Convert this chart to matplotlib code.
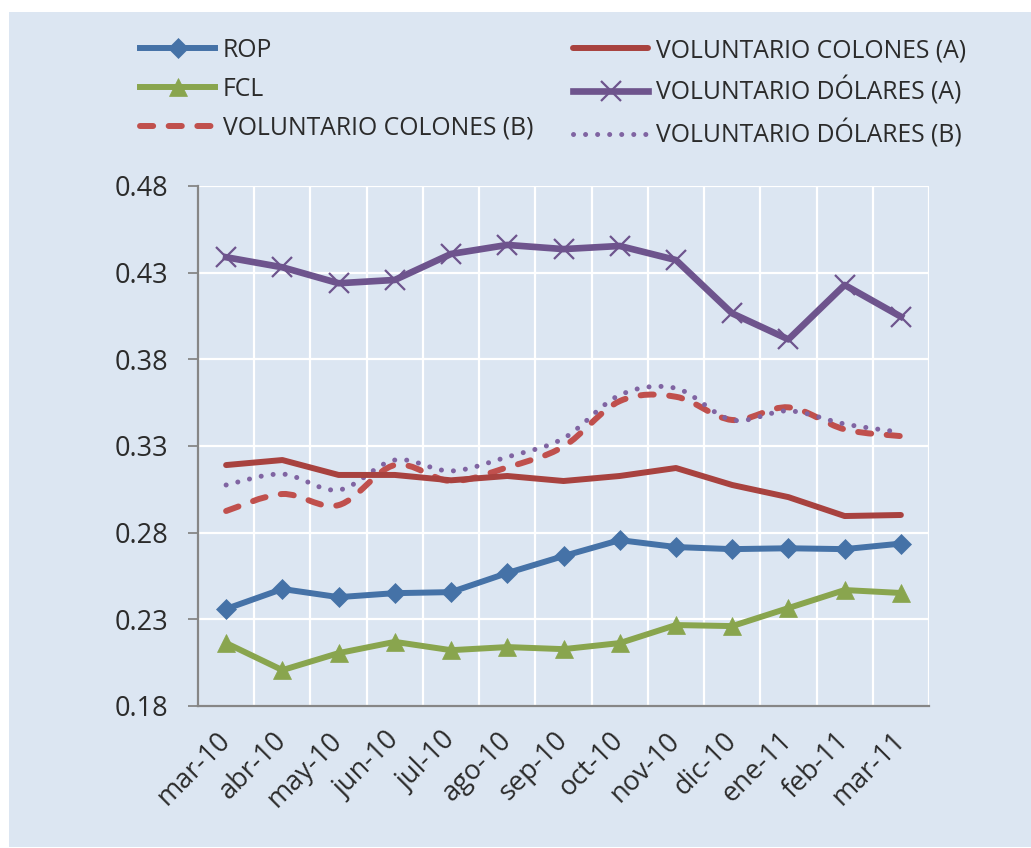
import matplotlib
matplotlib.use('Agg')
import matplotlib.pyplot as plt
import numpy as np
from matplotlib.patches import Rectangle, PathPatch
from matplotlib.path import Path
from matplotlib.lines import Line2D

plt.rcParams['font.family'] = ['Open Sans', 'DejaVu Sans']

# Data
months = ['mar-10', 'abr-10', 'may-10', 'jun-10', 'jul-10', 'ago-10', 'sep-10',
          'oct-10', 'nov-10', 'dic-10', 'ene-11', 'feb-11', 'mar-11']
rop = [0.2360, 0.2475, 0.2428, 0.2451, 0.2457, 0.2567, 0.2665,
       0.2757, 0.2717, 0.2705, 0.2710, 0.2705, 0.2737]
fcl = [0.2163, 0.2007, 0.2105, 0.2170, 0.2122, 0.2140, 0.2128,
       0.2163, 0.2267, 0.2261, 0.2365, 0.2469, 0.2452]
vol_col_a = [0.3190, 0.3219, 0.3133, 0.3133, 0.3102, 0.3127, 0.3098,
             0.3127, 0.3173, 0.3075, 0.3005, 0.2896, 0.2902]
vol_dol_a = [0.4389, 0.4331, 0.4239, 0.4258, 0.4408, 0.4460, 0.4436,
             0.4454, 0.4373, 0.4065, 0.3915, 0.4229, 0.4046]
vol_col_b = [0.2925, 0.3023, 0.2959, 0.3190, 0.3098, 0.3177, 0.3297,
             0.3559, 0.3584, 0.3450, 0.3523, 0.3396, 0.3357]
vol_dol_b = [0.3075, 0.3138, 0.3046, 0.3219, 0.3156, 0.3237, 0.3344,
             0.3594, 0.3633, 0.3450, 0.3503, 0.3427, 0.3379]

bg = '#dce6f2'
c_rop = '#4572a7'
c_fcl = '#89a54e'
c_vca = '#a8423f'
c_vda = '#6e548d'
c_vcb = '#c0504d'
c_vdb = '#8064a2'
txt = '#2b2b2b'


def smooth_path(x, y):
    # Excel-like smoothed line: Catmull-Rom segments as cubic Beziers
    n = len(x)
    verts = [(x[0], y[0])]
    codes = [Path.MOVETO]
    for i in range(n - 1):
        a = max(i - 1, 0)
        d = min(i + 2, n - 1)
        c1 = (x[i] + (x[i + 1] - x[a]) / 6, y[i] + (y[i + 1] - y[a]) / 6)
        c2 = (x[i + 1] - (x[d] - x[i]) / 6, y[i + 1] - (y[d] - y[i]) / 6)
        verts += [c1, c2, (x[i + 1], y[i + 1])]
        codes += [Path.CURVE4] * 3
    return Path(verts, codes)


fig = plt.figure(figsize=(10.31, 8.48), dpi=100, facecolor='white')
fig.add_artist(Rectangle((9 / 1031, 1 / 848), 1 - 9 / 1031, 1 - 13 / 848,
                         transform=fig.transFigure, facecolor=bg,
                         edgecolor='none', zorder=-10))

ax = fig.add_axes([198 / 1031, 1 - 706 / 848, (929 - 198) / 1031, (706 - 186) / 848])
ax.set_facecolor(bg)

x = np.arange(len(months))

lw = 4.3
l_rop, = ax.plot(x, rop, color=c_rop, lw=lw, marker='D', ms=10.5, mew=0.5, zorder=5)
l_fcl, = ax.plot(x, fcl, color=c_fcl, lw=lw, marker='^', ms=13, mew=0.5, zorder=5)
l_vca, = ax.plot(x, vol_col_a, color=c_vca, lw=lw, solid_capstyle='round', zorder=4)
l_vda, = ax.plot(x, vol_dol_a, color=c_vda, lw=4.8, marker='x', ms=14, mew=1.6, zorder=5)

p_vcb = PathPatch(smooth_path(x, vol_col_b), fill=False, edgecolor=c_vcb, lw=lw,
                  linestyle=(0, (2.2, 2.6)), capstyle='round', zorder=3)
p_vdb = PathPatch(smooth_path(x, vol_dol_b), fill=False, edgecolor=c_vdb, lw=3.6,
                  linestyle=(0, (0.01, 2.4)), capstyle='round', zorder=3)
ax.add_patch(p_vcb)
ax.add_patch(p_vdb)

ax.set_xlim(-0.5, len(months) - 0.5)
ax.set_ylim(0.18, 0.48)

ax.set_yticks(np.arange(0.18, 0.4801, 0.05))
ax.set_yticklabels(['%.2f' % v for v in np.arange(0.18, 0.4801, 0.05)])
ax.set_xticks(x)
ax.set_xticklabels(months, rotation=45, ha='right', va='center', rotation_mode='anchor')
ax.set_xticks(np.arange(-0.5, len(months), 1.0), minor=True)

ax.grid(True, which='major', axis='y', color='white', lw=1.6, zorder=0)
ax.grid(True, which='minor', axis='x', color='white', lw=1.6, zorder=0)
ax.set_axisbelow(True)

ax.tick_params(axis='y', which='major', length=7.5, width=1.3, color='#868686',
               labelsize=19.5, labelcolor=txt, pad=14)
ax.tick_params(axis='x', which='both', length=0, labelsize=19.5, labelcolor=txt, pad=22)

for s in ['top', 'right']:
    ax.spines[s].set_visible(False)
for s in ['left', 'bottom']:
    ax.spines[s].set_color('#868686')
    ax.spines[s].set_linewidth(1.6)

# legend (two columns, filled column-wise)
h_vcb = Line2D([], [], color=c_vcb, lw=lw, linestyle=(0, (2.2, 2.6)),
               dash_capstyle='round')
h_vdb = Line2D([], [], color=c_vdb, lw=3.6, linestyle=(0, (0.01, 2.4)),
               dash_capstyle='round')
handles = [l_rop, l_fcl, h_vcb, l_vca, l_vda, h_vdb]
labels = ['ROP', 'FCL', 'VOLUNTARIO COLONES (B)',
          'VOLUNTARIO COLONES (A)', 'VOLUNTARIO DÓLARES (A)', 'VOLUNTARIO DÓLARES (B)']
leg = fig.legend(handles, labels, ncol=2, loc='upper left',
                 bbox_to_anchor=(140 / 1031, 1 - 38 / 848),
                 frameon=False, fontsize=17.8, handlelength=3.05, handletextpad=0.3,
                 columnspacing=1.6, labelspacing=0.55, borderpad=0, borderaxespad=0)
for t in leg.get_texts():
    t.set_color(txt)

fig.savefig('out.png', dpi=100, facecolor='white')
